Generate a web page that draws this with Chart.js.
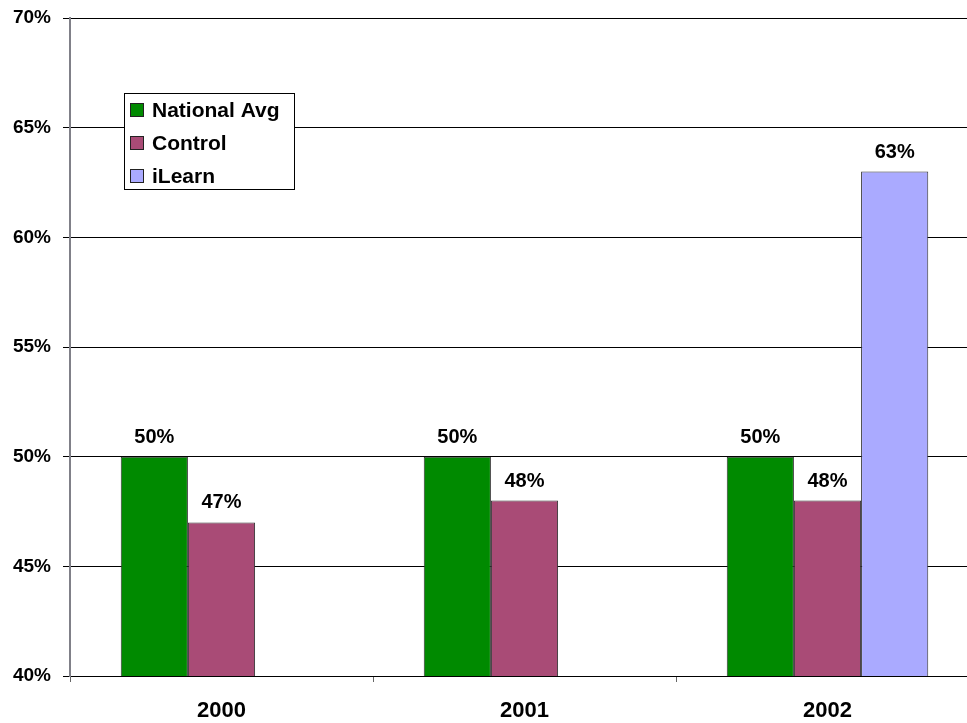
<!DOCTYPE html>
<html>
<head>
<meta charset="utf-8">
<script src="https://cdn.jsdelivr.net/npm/chart.js@4/dist/chart.umd.min.js"></script>
<style>
  html, body { margin: 0; padding: 0; background: #fff; overflow: hidden; }
  #wrap { position: relative; width: 980px; height: 723px; }
</style>
</head>
<body>
<div id="wrap"><canvas id="chart"></canvas></div>
<script>
// Chart values.
var categories  = ['2000', '2001', '2002'];
var nationalAvg = [50, 50, 50];
var control     = [47, 48, 48];
var ilearn      = [null, null, 63];
var yTicks      = [40, 45, 50, 55, 60, 65, 70];

var FONT = "'Liberation Sans', Arial, sans-serif";

// Writes "NN%" above each bar.
var valueLabels = {
  id: 'valueLabels',
  afterDatasetsDraw: function(chart) {
    var ctx = chart.ctx;
    ctx.save();
    ctx.font = 'bold 20px ' + FONT;
    ctx.fillStyle = '#000';
    ctx.textAlign = 'center';
    ctx.textBaseline = 'alphabetic';
    chart.data.datasets.forEach(function(ds, i) {
      var meta = chart.getDatasetMeta(i);
      meta.data.forEach(function(bar, j) {
        if (ds.data[j] == null) return;
        ctx.fillText(ds.data[j] + '%', bar.x, bar.y - 14);
      });
    });
    ctx.restore();
  }
};

// Boxed legend sitting inside the plot, like the original.
var boxLegend = {
  id: 'boxLegend',
  afterDraw: function(chart) {
    var ctx = chart.ctx;
    var x = 124, y = 93, w = 171, h = 97;
    ctx.save();
    ctx.fillStyle = '#fff';
    ctx.fillRect(x, y, w, h);
    ctx.strokeStyle = '#000';
    ctx.lineWidth = 1;
    ctx.strokeRect(x + 0.5, y + 0.5, w - 1, h - 1);
    ctx.font = 'bold 21px ' + FONT;
    ctx.textBaseline = 'middle';
    chart.data.datasets.forEach(function(ds, i) {
      var cy = y + 17 + i * 33;
      ctx.fillStyle = ds.backgroundColor;
      ctx.fillRect(130, cy - 7, 14, 14);
      ctx.strokeStyle = '#222';
      ctx.strokeRect(130.5, cy - 6.5, 13, 13);
      ctx.fillStyle = '#000';
      ctx.fillText(ds.label, 152, cy + 1);
    });
    ctx.restore();
  }
};

new Chart(document.getElementById('chart'), {
  type: 'bar',
  data: {
    labels: categories,
    datasets: [
      { label: 'National Avg', data: nationalAvg, backgroundColor: '#008a00' },
      { label: 'Control',      data: control,     backgroundColor: '#a94b76' },
      { label: 'iLearn',       data: ilearn,      backgroundColor: '#aaaaff' }
    ]
  },
  options: {
    responsive: true,
    maintainAspectRatio: false,
    animation: false,
    layout: { padding: { top: 18, right: 1, left: 0, bottom: 0 } },
    datasets: {
      bar: {
        borderColor: '#333',
        borderWidth: 1,
        categoryPercentage: 0.665,
        barPercentage: 1,
        grouped: true
      }
    },
    plugins: {
      legend: { display: false },
      tooltip: { enabled: false }
    },
    scales: {
      x: {
        grid: {
          offset: true,
          drawOnChartArea: false,
          drawTicks: true,
          tickLength: 6,
          color: '#666'
        },
        border: { color: '#000', width: 1 },
        ticks: {
          color: '#000',
          font: { family: FONT, size: 22, weight: 'bold' },
          padding: 16
        },
        afterFit: function(scale) { scale.height = 47; }
      },
      y: {
        min: 40,
        max: 70,
        afterBuildTicks: function(scale) {
          scale.ticks = yTicks.map(function(v) { return { value: v }; });
        },
        grid: {
          color: '#000',
          lineWidth: 1,
          tickLength: 7,
          drawTicks: true
        },
        border: { color: '#808088', width: 2 },
        ticks: {
          color: '#000',
          font: { family: FONT, size: 19, weight: 'bold' },
          padding: 12,
          callback: function(v) { return v + '%'; }
        },
        afterFit: function(scale) {
          scale.width = 70;
          // the top label may overhang the plot; no extra room needed
          scale.paddingTop = 0;
          scale.paddingBottom = 0;
        }
      }
    }
  },
  plugins: [valueLabels, boxLegend]
});
</script>
</body>
</html>
